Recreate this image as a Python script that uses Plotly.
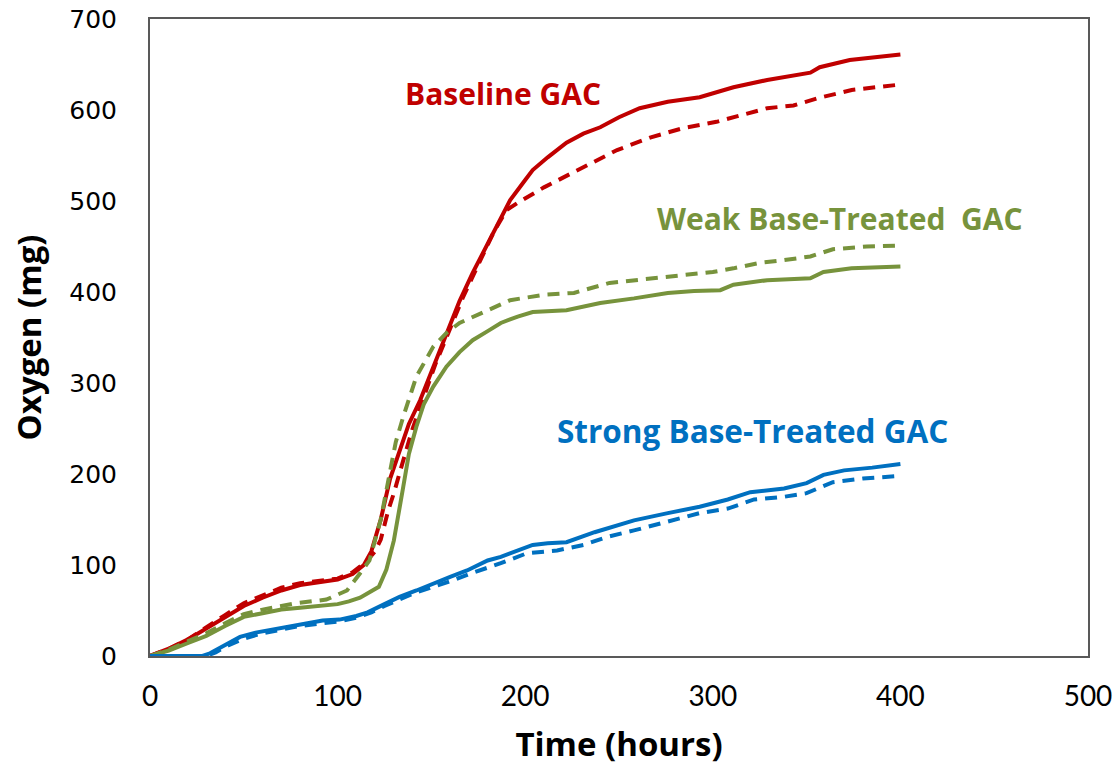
import plotly.graph_objects as go

# Cumulative oxygen uptake (mg) versus time (hours)
base_solid_t = [0, 10, 20, 30, 40, 50, 60, 70, 80, 90, 100, 108, 114, 118, 123, 128, 133, 138, 144, 151,
                158, 165, 172, 178, 183, 192, 200, 204, 212, 222, 231, 240, 250, 261, 276, 293, 311, 329,
                352, 357, 373, 400]
base_solid_v = [0, 8, 18, 30, 42, 55, 64, 72, 78, 81, 84, 90, 100, 115, 150, 195, 225, 255, 281, 318,
                355, 390, 421, 445, 465, 501, 523, 534, 548, 564, 574, 581, 592, 602, 609, 614, 625, 633,
                641, 647, 655, 661]

base_dash_t = [0, 10, 20, 30, 40, 50, 60, 70, 80, 90, 100, 108, 115, 120, 123, 127, 130, 135, 140, 146,
               152, 160, 167, 175, 183, 190, 196, 210, 231, 249, 267, 284, 302, 329, 343, 356, 374, 400]
base_dash_v = [0, 8, 18, 32, 45, 58, 67, 75, 80, 83, 85, 92, 103, 115, 128, 160, 179, 215, 250, 285,
               320, 360, 395, 430, 465, 490, 498, 515, 537, 556, 570, 580, 587, 602, 605, 613, 622, 628]

weak_solid_t = [0, 10, 20, 30, 40, 50, 60, 70, 80, 90, 100, 106, 112, 117, 122, 126, 130, 135, 138, 142,
                146, 151, 158, 165, 172, 180, 187, 196, 204, 222, 240, 258, 276, 290, 304, 311, 329, 352,
                359, 374, 400]
weak_solid_v = [0, 6, 14, 22, 33, 43, 47, 51, 53, 55, 57, 60, 64, 70, 76, 95, 127, 186, 222, 252,
                277, 296, 318, 334, 347, 357, 366, 373, 378, 380, 388, 393, 399, 401, 402, 408, 413, 415,
                422, 426, 428]

weak_dash_t = [0, 10, 20, 30, 40, 50, 60, 70, 78, 94, 105, 112, 117, 123, 128, 131, 135, 142, 151, 158,
               165, 180, 192, 210, 226, 245, 267, 284, 300, 311, 325, 338, 352, 364, 382, 400]
weak_dash_v = [0, 7, 16, 25, 36, 46, 51, 55, 58, 62, 72, 91, 105, 150, 201, 235, 263, 307, 340, 355,
               366, 380, 391, 397, 399, 410, 415, 419, 422, 426, 432, 435, 439, 447, 450, 451]

strong_solid_t = [0, 28, 32, 40, 48, 57, 66, 75, 84, 92, 101, 110, 116, 125, 133, 142, 151, 160, 169, 180,
                  187, 197, 204, 212, 222, 237, 258, 276, 293, 308, 320, 338, 350, 359, 370, 385, 400]
strong_solid_v = [0, 0, 3, 12, 21, 26, 29, 33, 36, 39, 40, 44, 48, 57, 65, 72, 80, 87, 94, 105,
                  109, 116, 122, 124, 125, 136, 149, 157, 164, 172, 180, 184, 190, 199, 204, 207, 211]

strong_dash_t = [0, 30, 35, 42, 50, 60, 70, 80, 92, 101, 110, 118, 125, 133, 142, 151, 160, 170, 180, 187,
                 201, 217, 231, 244, 258, 279, 293, 308, 322, 338, 350, 364, 380, 400]
strong_dash_v = [0, 0, 4, 12, 19, 25, 29, 33, 36, 38, 42, 48, 55, 62, 70, 76, 82, 90, 97, 102,
                 113, 116, 122, 131, 138, 149, 157, 162, 172, 175, 179, 191, 195, 198]

RED = "#C00000"
GREEN = "#77933C"
BLUE = "#0070C0"

series = [
    (base_solid_t, base_solid_v, RED, "solid"),
    (base_dash_t, base_dash_v, RED, "dash"),
    (weak_solid_t, weak_solid_v, GREEN, "solid"),
    (weak_dash_t, weak_dash_v, GREEN, "dash"),
    (strong_solid_t, strong_solid_v, BLUE, "solid"),
    (strong_dash_t, strong_dash_v, BLUE, "dash"),
]

fig = go.Figure()
for t, v, color, dash in series:
    fig.add_trace(go.Scatter(
        x=t, y=v, mode="lines",
        line=dict(color=color, width=4, dash="12px,8px" if dash == "dash" else "solid"),
        showlegend=False,
    ))

labels = [
    ("Baseline GAC", 188, 618, RED, 30),
    ("Weak Base-Treated  GAC", 368, 481, GREEN, 30),
    ("Strong Base-Treated GAC", 321, 248, BLUE, 31.5),
]
for text, x, y, color, size in labels:
    fig.add_annotation(x=x, y=y, text="<b>%s</b>" % text.replace("  ", "&nbsp; "),
                       showarrow=False, font=dict(family="Open Sans", size=size, color=color))

axis_common = dict(
    showgrid=False, zeroline=False, showline=True, linecolor="#595959", linewidth=2,
    mirror=True, ticks="", automargin=False,
)

fig.update_xaxes(range=[0, 500], dtick=100, **axis_common,
                 tickfont=dict(family="Lato", size=28, color="#000000"),
                 ticklabelstandoff=14,
                 title=dict(text="<b>Time (hours)</b>", font=dict(family="Open Sans", size=33, color="#000000"),
                            standoff=22))
fig.update_yaxes(range=[0, 700], dtick=100, **axis_common,
                 tickfont=dict(family="DejaVu Sans", size=25, color="#000000"),
                 ticklabelstandoff=26,
                 title=dict(text="<b>Oxygen (mg)</b>", font=dict(family="Open Sans", size=33, color="#000000"),
                            standoff=18))

fig.update_layout(
    width=1120, height=771,
    margin=dict(l=150, r=32, t=19, b=115, autoexpand=False),
    plot_bgcolor="#FFFFFF", paper_bgcolor="#FFFFFF",
)

fig.write_html("out.html")
